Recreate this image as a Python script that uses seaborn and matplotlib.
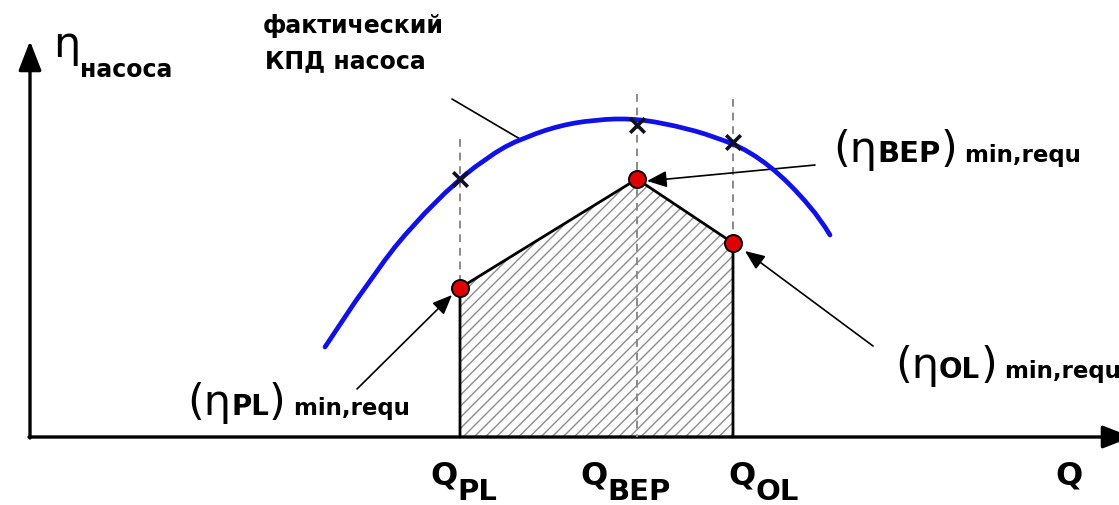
import matplotlib
matplotlib.use('Agg')
import matplotlib.pyplot as plt
import seaborn as sns

sns.set_style("white")
plt.rcParams['font.family'] = ['DejaVu Sans']
plt.rcParams['text.color'] = 'black'

# Данные схемы (в пикселях картинки: x вправо, y вниз)
q_names = ['PL', 'BEP', 'OL']
q_pos = [460, 637, 733]
eta_min = [289, 180, 244]      # минимально требуемый КПД (красные точки)
eta_fact = [180, 126, 143]     # фактический КПД в этих точках (крестики)

curve_q = [325, 335, 345, 355, 365, 375, 385, 395, 405, 415, 425, 435, 445, 455, 465, 475,
           485, 495, 505, 515, 525, 535, 545, 555, 565, 575, 585, 595, 605, 615, 625, 635,
           645, 655, 665, 675, 685, 695, 705, 715, 725, 735, 745, 755, 765, 775, 785, 795,
           805, 815, 825, 830]
curve_eta = [348, 333, 318, 303, 289, 275, 261, 248, 236, 225, 214, 204, 194, 185, 176, 168,
             161, 154, 148, 143, 139, 135, 131.5, 128.5, 126, 124, 122.5, 121.5, 120.5, 120, 120, 120.5,
             121.5, 123, 125, 127, 129.5, 132, 135, 138.5, 142, 146, 151, 157, 164, 172, 181, 191,
             202, 214, 228, 236]

x0, y0 = 30, 438   # начало координат

fig = plt.figure(figsize=(11.19, 5.06), dpi=100)
ax = fig.add_axes([0, 0, 1, 1])
ax.set_xlim(0, 1119)
ax.set_ylim(506, 0)
ax.axis('off')

# оси со стрелками
axis_arrow = dict(arrowstyle='-|>,head_length=0.9,head_width=0.35', color='black', lw=2.4,
                  mutation_scale=20, shrinkA=0, shrinkB=0)
ax.annotate('', xy=(x0, 42), xytext=(x0, y0 + 1), arrowprops=axis_arrow)
ax.annotate('', xy=(1132, y0), xytext=(x0 - 1, y0), arrowprops=axis_arrow, annotation_clip=False)

# пунктирные вертикали
dash_top = [140, 95, 100]
for q, top, e in zip(q_pos, dash_top, eta_min):
    bottom = y0 if q == q_pos[1] else e
    ax.plot([q, q], [top, bottom], color='#8a8a8a', lw=1.4, ls=(0, (4, 3)), zorder=3)

# заштрихованная область
poly_x = [q_pos[0]] + q_pos + [q_pos[-1]]
poly_y = [y0] + eta_min + [y0]
ax.fill(poly_x, poly_y, facecolor='white', edgecolor='#8c8c8c', hatch='///', lw=0, zorder=2)
ax.plot(poly_x, poly_y, color='black', lw=2, zorder=4)

# фактический КПД насоса
sns.lineplot(x=curve_q, y=curve_eta, sort=False, color='#1010e8', lw=3.4, ax=ax, zorder=5)
sns.scatterplot(x=q_pos, y=eta_fact, marker='x', s=110, color='#101020', linewidth=2.6, ax=ax, zorder=6)
sns.scatterplot(x=q_pos, y=eta_min, s=150, color='#e00000', edgecolor='black', linewidth=1.4, ax=ax, zorder=7)

# стрелки к точкам
ptr = dict(arrowstyle='-|>,head_length=0.6,head_width=0.25', color='black', lw=1.2,
           mutation_scale=20, shrinkA=0, shrinkB=0)
ax.annotate('', xy=(647, 182), xytext=(815, 166), arrowprops=ptr)
ax.annotate('', xy=(745, 252), xytext=(873, 347), arrowprops=ptr)
ax.annotate('', xy=(452, 296), xytext=(357, 390), arrowprops=ptr)
ax.plot([452, 520], [100, 140], color='black', lw=1.2, zorder=4)


def label(x, y, parts):
    # parts: (текст, размер, жирность, сдвиг базовой линии)
    prev = None
    for s, size, weight, dy in parts:
        if prev is None:
            prev = ax.text(x, y + dy, s, fontsize=size, fontweight=weight, ha='left', va='baseline')
        else:
            prev = ax.annotate(s, xy=(1, y + dy), xycoords=(prev, 'data'), fontsize=size,
                               fontweight=weight, ha='left', va='baseline')
    return prev


ax.text(263, 33, 'фактический', fontsize=17, fontweight='bold', va='baseline')
ax.text(265, 68, 'КПД насоса', fontsize=17, fontweight='bold', va='baseline')

label(53, 57, [('η', 31, 'normal', 0), ('насоса', 17, 'bold', 20)])

eta_labels = {'BEP': (833, 162, 21), 'OL': (895, 378, 20), 'PL': (187, 415, 20)}
for name, (lx, ly, sub) in eta_labels.items():
    label(lx, ly, [('(η', 31, 'normal', 0), (name, sub, 'bold', 0),
                   (')', 31, 'normal', 0), (' min,requ', 16.5, 'bold', 0)])

q_left = [430, 580, 728]
for name, lx in zip(q_names, q_left):
    label(lx, 485, [('Q', 23, 'bold', 0), (name, 21, 'bold', 15)])
ax.text(1055, 485, 'Q', fontsize=23, fontweight='bold', va='baseline')

fig.savefig('out.png', dpi=100)
